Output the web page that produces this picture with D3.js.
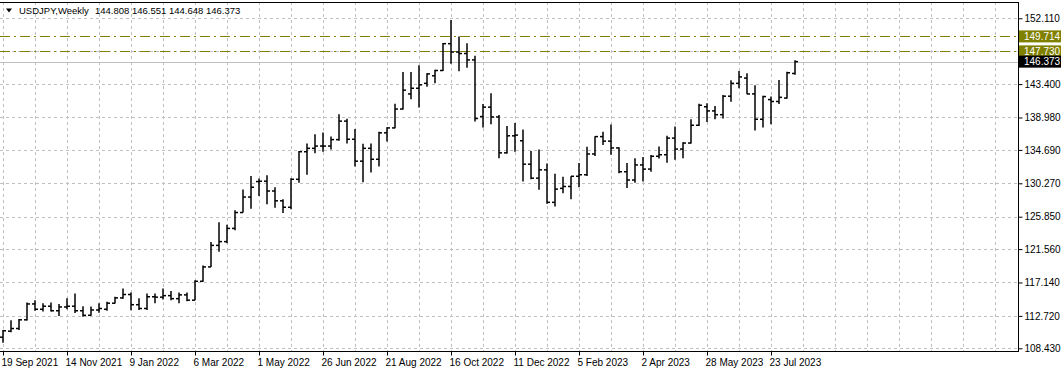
<!DOCTYPE html>
<html lang="en">
<head>
<meta charset="utf-8">
<title>USDJPY Weekly</title>
<script src="https://d3js.org/d3.v7.min.js"></script>
<style>
  body { margin: 0; background: #fff; }
  svg text { font-family: "Liberation Sans", Arial, sans-serif; font-size: 10px; }
</style>
</head>
<body>
<script>
// weekly bars, first bar = week of 19 Sep 2021, last = week of 13 Aug 2023
var opens = [109.90,110.70,111.05,112.20,114.30,113.60,114.00,113.40,113.90,114.00,
             113.40,112.80,113.50,113.60,114.40,115.10,115.55,114.20,113.70,115.25,
             115.20,115.40,115.00,115.50,114.80,117.30,119.20,122.05,122.55,124.30,
             126.40,128.45,130.50,130.55,129.25,127.95,127.10,130.80,134.45,134.90,
             135.20,135.20,136.05,138.50,136.10,133.20,134.90,133.45,136.95,137.60,
             140.10,142.10,142.85,143.50,144.50,145.20,148.75,147.65,147.45,146.60,
             139.10,140.35,139.05,134.30,136.55,135.90,132.80,130.95,132.05,127.75,
             129.60,129.85,131.20,131.40,134.15,136.45,135.85,134.95,131.80,130.70,
             132.70,132.15,133.85,134.05,136.25,134.80,135.60,137.95,140.40,139.85,
             139.35,141.80,143.50,144.20,142.10,138.75,141.35,141.10,141.55,144.808];
var highs = [110.85,112.15,112.30,114.50,114.80,114.40,114.50,114.30,115.05,115.70,
             114.00,113.95,114.40,114.60,115.25,116.35,115.80,115.05,115.70,115.70,
             116.35,116.00,115.80,115.80,117.45,119.40,122.50,125.10,124.80,126.70,
             129.45,131.25,130.90,131.35,129.75,128.15,130.95,134.55,135.55,136.75,
             137.00,136.45,139.40,138.80,137.45,135.50,135.55,137.10,137.70,140.80,
             145.00,145.00,145.90,144.85,145.30,148.85,151.90,149.70,148.80,147.15,
             140.75,142.20,139.30,137.85,138.25,137.40,134.55,134.75,132.90,131.55,
             131.15,131.20,132.95,135.10,136.50,137.10,138.05,135.05,132.95,133.60,
             133.75,134.00,135.15,136.55,137.80,135.70,138.75,140.80,140.85,140.50,
             141.95,143.90,145.15,144.85,143.25,141.85,141.75,143.95,145.05,146.551];
var lows = [109.15,110.55,110.85,112.10,113.40,113.30,113.30,112.70,113.60,113.10,
            112.60,112.75,113.15,113.40,114.35,115.00,113.45,113.50,113.50,114.40,
            114.90,114.80,114.40,114.65,114.80,117.25,119.20,121.20,122.35,124.05,
            126.40,126.90,128.60,127.50,127.05,126.35,126.85,130.35,131.40,134.25,
            134.45,134.75,135.90,135.55,132.50,130.40,131.70,132.50,135.80,137.55,
            140.05,141.40,140.30,143.05,143.50,145.15,146.10,145.10,145.55,138.45,
            137.65,138.10,133.60,134.20,134.45,130.50,130.80,129.40,127.55,127.20,
            128.95,128.15,129.75,131.25,133.90,135.35,134.05,131.60,129.65,130.35,
            130.50,131.80,133.55,133.00,133.40,133.60,135.55,137.85,138.40,138.75,
            138.85,141.05,142.85,142.05,137.25,137.65,138.10,140.75,141.50,144.648];
var closes = [110.75,111.05,112.20,114.30,113.60,114.00,113.40,113.90,114.00,113.40,
              112.80,113.50,113.70,114.40,115.10,115.55,114.20,113.70,115.25,115.20,
              115.40,115.00,115.50,114.80,117.30,119.20,122.05,122.55,124.30,126.40,
              128.45,129.75,130.55,129.25,127.95,127.10,130.80,134.45,134.90,135.20,
              135.20,136.05,138.50,136.10,133.20,134.90,133.45,136.95,137.60,140.10,
              142.60,142.85,143.30,144.75,145.20,148.75,147.65,147.45,146.60,138.85,
              140.35,139.05,134.30,136.55,136.65,132.80,130.95,132.05,127.75,129.50,
              129.85,131.20,131.40,134.15,136.45,135.85,134.95,131.80,130.70,132.70,
              132.15,133.85,134.05,136.25,134.80,135.60,137.95,140.60,139.85,139.35,
              141.80,143.50,144.35,142.10,138.75,141.75,141.10,141.65,144.90,146.373];

var dateLabels = ["19 Sep 2021","14 Nov 2021","9 Jan 2022","6 Mar 2022","1 May 2022",
                  "26 Jun 2022","21 Aug 2022","16 Oct 2022","11 Dec 2022","5 Feb 2023",
                  "2 Apr 2023","28 May 2023","23 Jul 2023"];
var priceTicks = [152.110,147.760,143.400,138.980,134.690,130.270,125.850,121.560,117.140,112.720,108.430];
var levels = [149.714, 147.730];
var lastPrice = 146.373;
var symbolName = "USDJPY,Weekly";
var titleValues = "144.808 146.551 144.648 146.373";

var width = 1064, height = 372;
var plotRight = 1018, plotBottom = 351, plotTop = 2;
var step = 8;   // px per weekly bar

var bars = opens.map(function(o, i) {
    return {i: i, o: o, h: highs[i], l: lows[i], c: closes[i]};
});

var x = d3.scaleLinear().domain([0, bars.length - 1]).range([3, 3 + (bars.length - 1) * step]);
var y = d3.scaleLinear().domain([108.43, 152.11]).range([348.3, 18.3]);

var svg = d3.select("body").append("svg")
    .attr("width", width)
    .attr("height", height);

// grid
var vGrid = d3.range(0, plotRight - 3, 32);
svg.append("g").selectAll("line")
    .data(vGrid).enter().append("line")
    .attr("x1", function(d) { return 3.5 + d; })
    .attr("x2", function(d) { return 3.5 + d; })
    .attr("y1", plotTop).attr("y2", plotBottom)
    .style("stroke", "#c0c0c0").style("stroke-dasharray", "3,3");

svg.append("g").selectAll("line")
    .data(priceTicks).enter().append("line")
    .attr("x1", 0).attr("x2", plotRight)
    .attr("y1", function(d) { return Math.round(y(d)) + 0.5; })
    .attr("y2", function(d) { return Math.round(y(d)) + 0.5; })
    .style("stroke", "#c0c0c0").style("stroke-dasharray", "3,3");

// level lines
svg.append("line")
    .attr("x1", 0).attr("x2", plotRight)
    .attr("y1", Math.round(y(lastPrice)) + 0.5).attr("y2", Math.round(y(lastPrice)) + 0.5)
    .style("stroke", "#c0c0c0");

svg.append("g").selectAll("line")
    .data(levels).enter().append("line")
    .attr("x1", 0).attr("x2", plotRight)
    .attr("y1", function(d) { return Math.round(y(d)) + 0.5; })
    .attr("y2", function(d) { return Math.round(y(d)) + 0.5; })
    .style("stroke", "#808000")
    .style("stroke-dasharray", "10,4,2,4");

// OHLC bars
var g = svg.append("g").style("stroke", "#000").style("stroke-width", 1.5);
g.selectAll(".hl").data(bars).enter().append("line")
    .attr("x1", function(d) { return x(d.i); })
    .attr("x2", function(d) { return x(d.i); })
    .attr("y1", function(d) { return y(d.h); })
    .attr("y2", function(d) { return y(d.l); });
g.selectAll(".op").data(bars).enter().append("line")
    .attr("x1", function(d) { return x(d.i) - 3; })
    .attr("x2", function(d) { return x(d.i); })
    .attr("y1", function(d) { return y(d.o); })
    .attr("y2", function(d) { return y(d.o); });
g.selectAll(".cl").data(bars).enter().append("line")
    .attr("x1", function(d) { return x(d.i); })
    .attr("x2", function(d) { return x(d.i) + 3; })
    .attr("y1", function(d) { return y(d.c); })
    .attr("y2", function(d) { return y(d.c); });

// frame
svg.append("line").attr("x1", 0).attr("x2", plotRight + 0.5)
    .attr("y1", plotTop + 0.5).attr("y2", plotTop + 0.5).style("stroke", "#000");
svg.append("line").attr("x1", 0).attr("x2", plotRight + 0.5)
    .attr("y1", plotBottom + 0.5).attr("y2", plotBottom + 0.5).style("stroke", "#000");
svg.append("line").attr("x1", plotRight + 0.5).attr("x2", plotRight + 0.5)
    .attr("y1", plotTop).attr("y2", plotBottom + 1).style("stroke", "#000");

// price axis
var yAxis = d3.axisRight(y)
    .tickValues(priceTicks)
    .tickSize(4)
    .tickPadding(2)
    .tickFormat(d3.format(".3f"));
var ya = svg.append("g").attr("transform", "translate(" + (plotRight + 0.5) + ",0)").call(yAxis);
ya.select(".domain").remove();
ya.selectAll("text").style("font-size", "10px").style("font-family", "Liberation Sans, Arial, sans-serif")
    .attr("fill", "#000");

// time axis
var xAxis = d3.axisBottom(x)
    .tickValues(dateLabels.map(function(d, k) { return k * 8; }))
    .tickSize(4)
    .tickFormat(function(d) { return dateLabels[d / 8]; });
var xa = svg.append("g").attr("transform", "translate(0," + (plotBottom + 0.5) + ")").call(xAxis);
xa.select(".domain").remove();
xa.selectAll("text").attr("text-anchor", "start").attr("dx", "-2")
    .style("font-size", "10px").style("font-family", "Liberation Sans, Arial, sans-serif")
    .attr("fill", "#000");

// price boxes at the right
var boxes = levels.map(function(v) { return {v: v, fill: "#808000"}; })
    .concat([{v: lastPrice, fill: "#000"}]);
var bx = svg.append("g").selectAll("g").data(boxes).enter().append("g")
    .attr("transform", function(d) { return "translate(" + (plotRight + 1) + "," + y(d.v) + ")"; });
bx.append("rect").attr("x", 0).attr("y", -6).attr("width", 42).attr("height", 12)
    .style("fill", function(d) { return d.fill; });
bx.append("text").attr("x", 5).attr("y", 3.5).attr("fill", "#fff")
    .text(function(d) { return d.v.toFixed(3); });

// title
svg.append("path").attr("d", "M6,8.5 L12,8.5 L9,12.5 Z").style("fill", "#000");
svg.append("text").attr("x", 19).attr("y", 14).attr("fill", "#000")
    .style("font-size", "9.5px").text(symbolName);
svg.append("text").attr("x", 95).attr("y", 14).attr("fill", "#000")
    .style("font-size", "9.5px").text(titleValues);
</script>
</body>
</html>
